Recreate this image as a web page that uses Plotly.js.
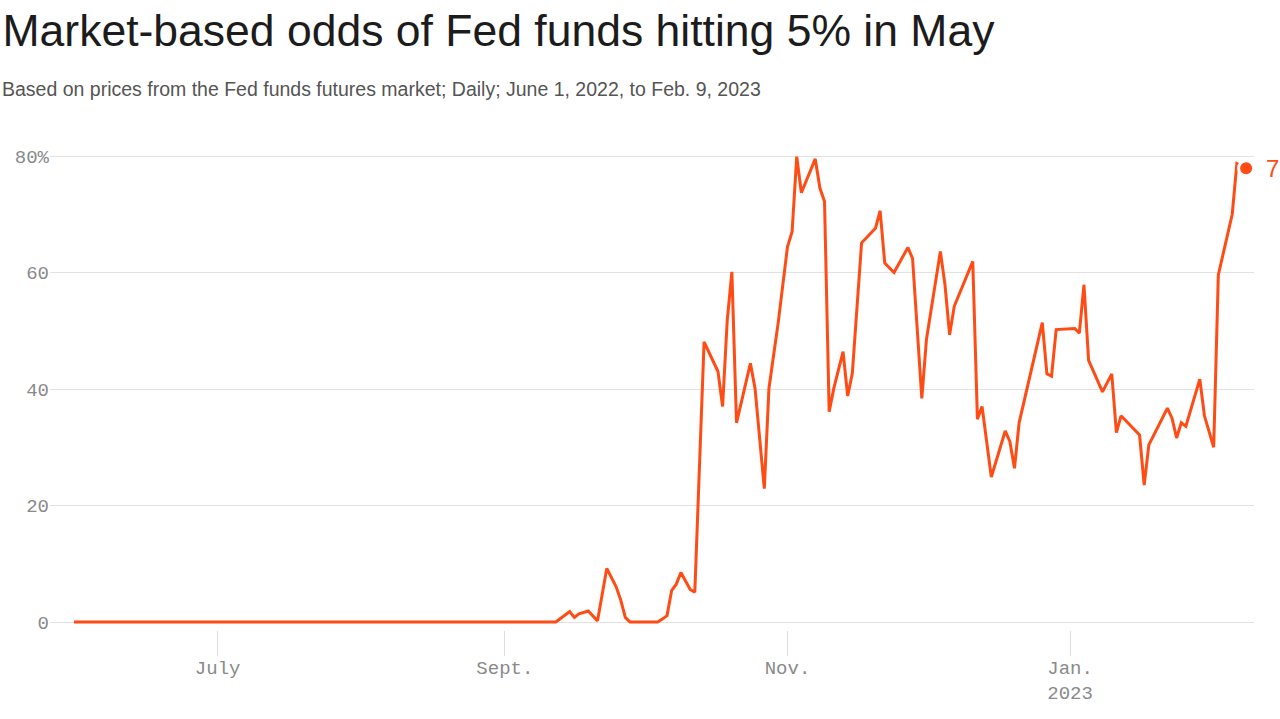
<!DOCTYPE html>
<html>
<head>
<meta charset="utf-8">
<script src="https://cdn.plot.ly/plotly-3.0.1.min.js"></script>
<style>
html, body { margin: 0; padding: 0; background: #ffffff; }
#chart { width: 1280px; height: 719px; }
</style>
</head>
<body>
<div id="chart"></div>
<script>
// ---- Data ----
const dates = [
  '2022-06-01','2022-09-13','2022-09-14','2022-09-16','2022-09-17','2022-09-18','2022-09-20','2022-09-22',
  '2022-09-24','2022-09-26','2022-09-27','2022-09-28','2022-09-29','2022-10-05','2022-10-06','2022-10-07',
  '2022-10-08','2022-10-09','2022-10-10','2022-10-12','2022-10-13','2022-10-15','2022-10-18','2022-10-19',
  '2022-10-20','2022-10-21','2022-10-22','2022-10-25','2022-10-26','2022-10-28','2022-10-29','2022-10-31',
  '2022-11-02','2022-11-03','2022-11-04','2022-11-05','2022-11-08','2022-11-09','2022-11-10','2022-11-11',
  '2022-11-12','2022-11-14','2022-11-15','2022-11-16','2022-11-18','2022-11-21','2022-11-22','2022-11-23',
  '2022-11-25','2022-11-28','2022-11-29','2022-12-01','2022-12-02','2022-12-05','2022-12-06','2022-12-07',
  '2022-12-08','2022-12-12','2022-12-13','2022-12-14','2022-12-16','2022-12-19','2022-12-20','2022-12-21',
  '2022-12-22','2022-12-27','2022-12-28','2022-12-29','2022-12-30','2023-01-03','2023-01-04','2023-01-05',
  '2023-01-06','2023-01-09','2023-01-11','2023-01-12','2023-01-13','2023-01-17','2023-01-18','2023-01-19',
  '2023-01-23','2023-01-24','2023-01-25','2023-01-26','2023-01-27','2023-01-30','2023-01-31','2023-02-02',
  '2023-02-03','2023-02-06','2023-02-07','2023-02-09'
];
const odds = [
  0, 0, 0.6, 1.8, 0.8, 1.4, 1.9, 0.2,
  9.2, 6.1, 3.8, 0.8, 0, 0, 0.5, 1.1,
  5.4, 6.5, 8.5, 5.6, 5.1, 48.1, 43.0, 37.0,
  51.8, 60.1, 34.2, 44.4, 40.1, 22.9, 40.1, 51.4,
  64.4, 67.0, 79.9, 73.7, 79.5, 74.5, 72.2, 36.1,
  40.1, 46.4, 38.8, 42.7, 65.1, 67.6, 70.6, 61.6,
  60.0, 64.3, 62.4, 38.4, 48.5, 63.6, 57.9, 49.3,
  54.2, 61.9, 34.8, 37.0, 24.9, 32.8, 31.0, 26.4,
  34.2, 51.4, 42.6, 42.2, 50.2, 50.4, 49.6, 57.9,
  44.9, 39.5, 42.6, 32.5, 35.4, 32.1, 23.5, 30.4,
  36.7, 35.0, 31.6, 34.2, 33.6, 41.7, 35.4, 30.0,
  59.6, 70.0, 78.7, 77.9
];
const xTickDates = ['2022-07-02', '2022-09-02', '2022-11-02', '2023-01-02'];
const xTickLabels = ['July', 'Sept.', 'Nov.', 'Jan.<br>2023'];
const yTickValues = [0, 20, 40, 60, 80];
const yTickLabels = ['0', '20', '40', '60', '80%'];
const endLabel = '78%';

const orange = '#ff4b14';
const lastDate = dates[dates.length - 1];
const lastValue = odds[odds.length - 1];

const traces = [
  {
    type: 'scatter', mode: 'lines',
    x: dates, y: odds,
    line: { color: orange, width: 3, shape: 'linear' },
    hoverinfo: 'x+y'
  },
  {
    type: 'scatter', mode: 'markers',
    x: [lastDate], y: [lastValue],
    marker: { color: orange, size: 15, line: { color: '#ffffff', width: 3 } },
    cliponaxis: false,
    hoverinfo: 'x+y'
  }
];

const tickFont = { family: 'Liberation Mono, DejaVu Sans Mono, monospace', size: 19, color: '#8a8a8a' };

const layout = {
  width: 1280, height: 719,
  paper_bgcolor: '#ffffff', plot_bgcolor: '#ffffff',
  showlegend: false,
  margin: { l: 50, r: 26, t: 150, b: 89, pad: 0 },
  title: {
    text: 'Market-based odds of Fed funds hitting 5% in May',
    font: { family: 'Liberation Sans, Arial, sans-serif', size: 44.5, color: '#1c1c1c' },
    x: 0.002, xref: 'container', xanchor: 'left',
    y: 0.957, yref: 'container', yanchor: 'middle'
  },
  xaxis: {
    type: 'date',
    range: ['2022-05-26 19:40', '2023-02-10 16:48'],
    tickmode: 'array', tickvals: xTickDates, ticktext: xTickLabels,
    ticks: 'outside', ticklen: 25, tickwidth: 1, tickcolor: '#dddddd',
    ticklabelstandoff: -5,
    showgrid: false, zeroline: false, showline: false,
    tickfont: tickFont,
    fixedrange: true
  },
  yaxis: {
    range: [-1.37, 81.03],
    tickmode: 'array', tickvals: yTickValues, ticktext: yTickLabels,
    ticks: '', showgrid: true, gridcolor: '#e2e2e2', gridwidth: 1,
    zeroline: false, showline: false,
    tickfont: tickFont,
    fixedrange: true
  },
  annotations: [
    {
      text: 'Based on prices from the Fed funds futures market; Daily; June 1, 2022, to Feb. 9, 2023',
      xref: 'paper', yref: 'paper', x: -0.0416, y: 1.127,
      xanchor: 'left', yanchor: 'middle', showarrow: false,
      font: { family: 'Liberation Sans, Arial, sans-serif', size: 19.5, color: '#555555' }
    },
    {
      text: endLabel,
      xref: 'paper', yref: 'y', x: 1.0083, y: lastValue,
      xanchor: 'left', yanchor: 'middle', showarrow: false,
      font: { family: 'Liberation Sans, Arial, sans-serif', size: 24, color: orange }
    }
  ]
};

Plotly.newPlot('chart', traces, layout, { displayModeBar: false, staticPlot: true });
</script>
</body>
</html>
